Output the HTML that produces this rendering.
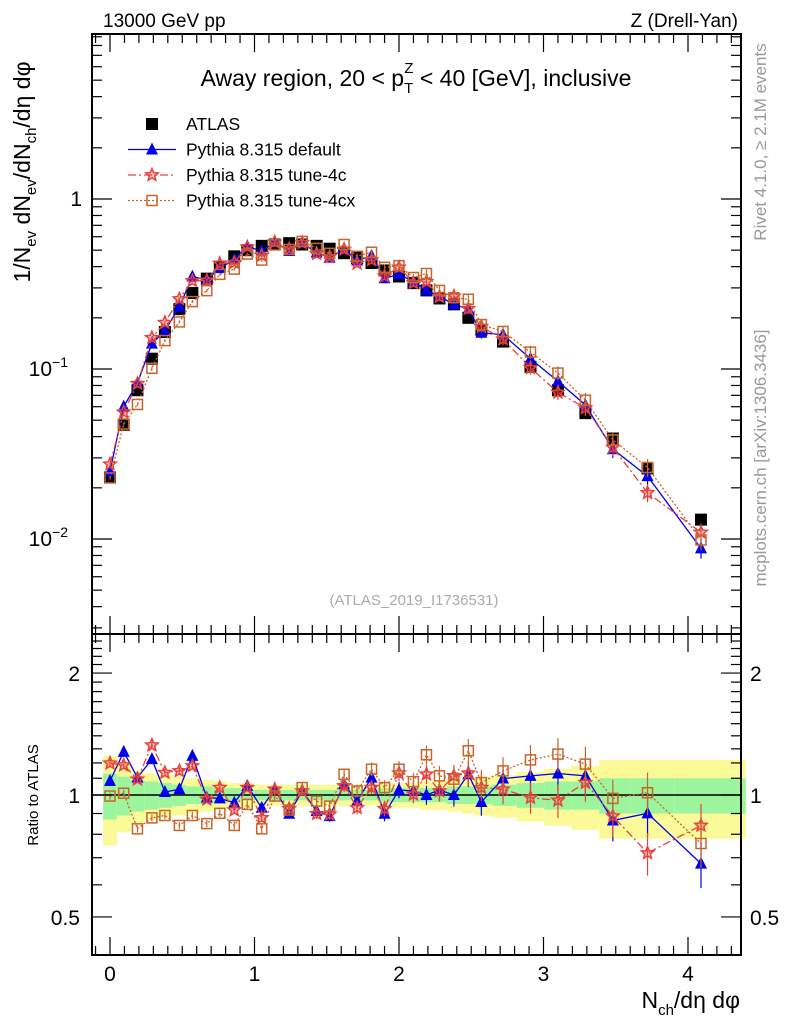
<!DOCTYPE html>
<html><head><meta charset="utf-8"><style>
body{margin:0;background:#fff;}
svg{display:block;font-family:"Liberation Sans",sans-serif;}
</style></head><body>
<svg id="c" width="786" height="1024" viewBox="0 0 786 1024" xmlns="http://www.w3.org/2000/svg">
<text x="103" y="27" font-size="19">13000 GeV pp</text>
<text x="738" y="27" font-size="19" text-anchor="end">Z (Drell-Yan)</text>
<text x="416" y="86" font-size="23" text-anchor="middle">Away region, 20 &lt; p<tspan font-size="15" dy="7">T</tspan><tspan font-size="15" dx="-9" dy="-20">Z</tspan><tspan dy="13"> &lt; 40 [GeV], inclusive</tspan></text>
<text transform="translate(30,172) rotate(-90)" font-size="23" text-anchor="middle">1/N<tspan font-size="15" dy="6">ev</tspan><tspan dy="-6"> dN</tspan><tspan font-size="15" dy="6">ev</tspan><tspan dy="-6">/dN</tspan><tspan font-size="15" dy="6">ch</tspan><tspan dy="-6">/dη dφ</tspan></text>
<text transform="translate(38,795) rotate(-90)" font-size="15" text-anchor="middle">Ratio to ATLAS</text>
<text x="740" y="1008" font-size="23" text-anchor="end">N<tspan font-size="15" dy="7">ch</tspan><tspan dy="-7">/dη dφ</tspan></text>
<text transform="translate(766,142) rotate(-90)" font-size="17" fill="#999" text-anchor="middle">Rivet 4.1.0, ≥ 2.1M events</text>
<text transform="translate(766,458) rotate(-90)" font-size="17" fill="#999" text-anchor="middle">mcplots.cern.ch [arXiv:1306.3436]</text>
<text x="414" y="605" font-size="15" fill="#aaa" text-anchor="middle">(ATLAS_2019_I1736531)</text>
<g id="g"></g>
</svg>
<script>
const xs=[0,0.095,0.19,0.29,0.38,0.48,0.57,0.67,0.76,0.86,0.95,1.05,1.14,1.24,1.33,1.43,1.52,1.62,1.71,1.81,1.9,2.0,2.1,2.19,2.28,2.38,2.48,2.57,2.72,2.91,3.1,3.29,3.48,3.72,4.09];
const atlas=[0.023,0.047,0.075,0.115,0.165,0.225,0.28,0.34,0.40,0.46,0.50,0.53,0.54,0.55,0.54,0.53,0.51,0.48,0.45,0.42,0.38,0.35,0.32,0.29,0.26,0.24,0.20,0.17,0.145,0.103,0.075,0.055,0.039,0.026,0.013];
const rDefault=[1.083,1.278,1.104,1.226,1.017,1.033,1.249,0.985,0.981,0.957,1.053,0.930,1.033,0.899,1.023,0.913,0.887,1.063,0.966,1.104,0.899,1.029,1.023,1.0,1.029,1.0,1.125,0.961,1.098,1.115,1.130,1.115,0.865,0.901,0.677];
const r4c=[1.198,1.185,1.094,1.328,1.136,1.147,1.180,0.976,1.043,0.918,1.043,0.878,1.033,0.925,1.023,0.899,0.896,1.053,0.930,1.043,0.925,1.132,1.004,1.125,1.023,1.115,1.132,1.043,1.033,0.985,0.970,1.073,0.887,0.719,0.841];
const r4cx=[0.994,1.01,0.825,0.878,0.890,0.841,0.890,0.850,0.901,0.841,0.948,0.825,0.994,0.918,1.043,0.966,0.939,1.125,1.023,1.158,1.043,1.158,1.079,1.257,1.115,1.094,1.286,1.073,1.147,1.221,1.262,1.192,0.981,1.013,0.759];
const totErr=[0.25,0.19,0.15,0.13,0.12,0.11,0.10,0.09,0.08,0.07,0.07,0.06,0.06,0.06,0.06,0.06,0.06,0.06,0.06,0.06,0.07,0.07,0.07,0.08,0.08,0.09,0.10,0.11,0.12,0.14,0.16,0.18,0.22,0.22,0.22];
const statErr=[0.13,0.11,0.09,0.08,0.07,0.06,0.05,0.05,0.04,0.04,0.03,0.03,0.03,0.03,0.03,0.03,0.03,0.03,0.03,0.03,0.04,0.04,0.04,0.04,0.04,0.05,0.05,0.05,0.06,0.07,0.08,0.08,0.10,0.10,0.10];
const xTicks=[0,1,2,3,4];
const ratioTicks=[0.5,1,2];

const NS="http://www.w3.org/2000/svg";
const G=document.getElementById('g');
function mk(t,a,p){const e=document.createElementNS(NS,t);for(const k in a)e.setAttribute(k,a[k]);(p||G).appendChild(e);return e;}
const L=92,R=741,T=34,MB=634,RB=955;
const X=v=>110+v*144.5;
const Y=v=>199-170*Math.log10(v);
const YR=v=>795-405*Math.log10(v);
const models=[{r:rDefault,c:'#0000ee',dash:'',m:'tri',n:'default'},{r:r4c,c:'#e8413c',dash:'8,3,2,3',m:'star',n:'tune-4c'},{r:r4cx,c:'#c8642a',dash:'2,2',m:'sq',n:'tune-4cx'}];

function edges(i){const lo=i==0?xs[0]-(xs[1]-xs[0])/2:(xs[i-1]+xs[i])/2;const hi=i==xs.length-1?4.4:(xs[i]+xs[i+1])/2;return [lo,hi];}
xs.forEach((x,i)=>{const [a,b]=edges(i);
 let e=mk('rect',{x:X(a),y:YR(1+totErr[i]),width:X(b)-X(a),height:YR(1-totErr[i])-YR(1+totErr[i]),fill:'#fbfa98'});
 
 
 e=mk('rect',{x:X(a),y:YR(1+statErr[i]),width:X(b)-X(a),height:YR(1-statErr[i])-YR(1+statErr[i]),fill:'#9cf59c'});
 
 
});
mk('line',{x1:L,x2:R,y1:YR(1),y2:YR(1),stroke:'#000','stroke-width':1.5});

function marker(type,x,y,c,s){
 let e;
 if(type=='sq') e=mk('rect',{x:x-s,y:y-s,width:2*s,height:2*s,fill:c});
 else if(type=='osq') e=mk('rect',{x:x-s+1,y:y-s+1,width:2*s-2,height:2*s-2,fill:'none',stroke:c,'stroke-width':1.5});
 else if(type=='tri') e=mk('polygon',{points:`${x},${y-s-1} ${x-s},${y+s-1} ${x+s},${y+s-1}`,fill:c});
 else {let p=[];for(let k=0;k<10;k++){const rr=k%2?s*0.45:s;const a=-Math.PI/2+k*Math.PI/5;p.push((x+rr*Math.cos(a)).toFixed(1)+','+(y+rr*Math.sin(a)).toFixed(1));}
  e=mk('polygon',{points:p.join(' '),fill:'rgba(232,65,60,0.35)',stroke:c,'stroke-width':1.5});}
 return e;
}
function drawModel(md,yf,vals){
 const pts=xs.map((x,i)=>X(x)+','+yf(vals[i]).toFixed(1)).join(' ');
 let e=mk('polyline',{points:pts,fill:'none',stroke:md.c,'stroke-width':1.3,'stroke-dasharray':md.dash});
 
 
 xs.forEach((x,i)=>{const v=vals[i];const er=0.02+0.12*(i/xs.length)**3;
  mk('line',{x1:X(x),x2:X(x),y1:yf(v*(1+er)),y2:yf(v*(1-er)),stroke:md.c,'stroke-width':1.2});
  const m=marker(md.m=='sq'?'osq':md.m,X(x),yf(v),md.c,md.m=='star'?6.5:6);
  
  });
}
xs.forEach((x,i)=>{const m=marker('sq',X(x),Y(atlas[i]),'#000',6);
 
 });
models.forEach(md=>drawModel(md,Y,atlas.map((a,i)=>a*md.r[i])));
models.forEach(md=>drawModel(md,YR,md.r));

[[T,MB],[MB,RB]].forEach(([t,b])=>mk('rect',{x:L,y:t,width:R-L,height:b-t,fill:'none',stroke:'#000','stroke-width':2}));
for(let k=-1;k<=44;k++){const v=k/10;const x=X(v);if(x<L||x>R)continue;const maj=k%10==0;const len=maj?18:9;
 [[T,1],[MB,-1],[MB,1],[RB,-1]].forEach(([y,d])=>mk('line',{x1:x,x2:x,y1:y,y2:y+d*len,stroke:'#000','stroke-width':1.2}));}
xTicks.forEach(v=>{const e=mk('text',{x:X(v),y:981,'font-size':21,'text-anchor':'middle'});e.textContent=v;
 
 });
for(let d=-3;d<=0;d++)for(let m=1;m<=9;m++){const v=m*10**d;const y=Y(v);if(y<T||y>MB)continue;const len=m==1?20:10;
 mk('line',{x1:L,x2:L+len,y1:y,y2:y,stroke:'#000','stroke-width':1.2});mk('line',{x1:R,x2:R-len,y1:y,y2:y,stroke:'#000','stroke-width':1.2});}
[['1',0],['10',-1],['10',-2]].forEach(([t,d])=>{const e=mk('text',{x:d==0?82:68,y:Y(10**d)+7,'font-size':21,'text-anchor':'end'});e.textContent=t;
 if(d<0){const s=mk('tspan',{'font-size':14,dy:-9},e);s.textContent='−'+(-d);}
 
 });
[0.4,0.5,0.6,0.7,0.8,0.9,1,1.1,1.2,1.3,1.4,1.5,1.6,1.7,1.8,1.9,2,2.1,2.2,2.3,2.4,2.5].forEach(v=>{const y=YR(v);if(y<MB||y>RB)return;const len=[0.5,1,2].includes(v)?20:10;
 mk('line',{x1:L,x2:L+len,y1:y,y2:y,stroke:'#000','stroke-width':1.2});mk('line',{x1:R,x2:R-len,y1:y,y2:y,stroke:'#000','stroke-width':1.2});});
ratioTicks.forEach(v=>{let e=mk('text',{x:80,y:YR(v)+8,'font-size':21,'text-anchor':'end'});e.textContent=v;
 
 
 e=mk('text',{x:750,y:YR(v)+8,'font-size':21});e.textContent=v;
 
 });
const leg=[{n:'ATLAS',c:'#000',m:'sq',dash:null},...models.map(md=>({n:'Pythia 8.315 '+md.n,c:md.c,m:md.m=='sq'?'osq':md.m,dash:md.dash}))];
leg.forEach((l,i)=>{const y=124+i*25.5;
 if(l.dash!==null)mk('line',{x1:128,x2:176,y1:y,y2:y,stroke:l.c,'stroke-width':1.3,'stroke-dasharray':l.dash});
 const m=marker(l.m,152,y,l.c,l.m=='star'?6.5:6);
 
 
 const t=mk('text',{x:186,y:y+6,'font-size':17.5});t.textContent=l.n;
 
 });
</script>
</body></html>
